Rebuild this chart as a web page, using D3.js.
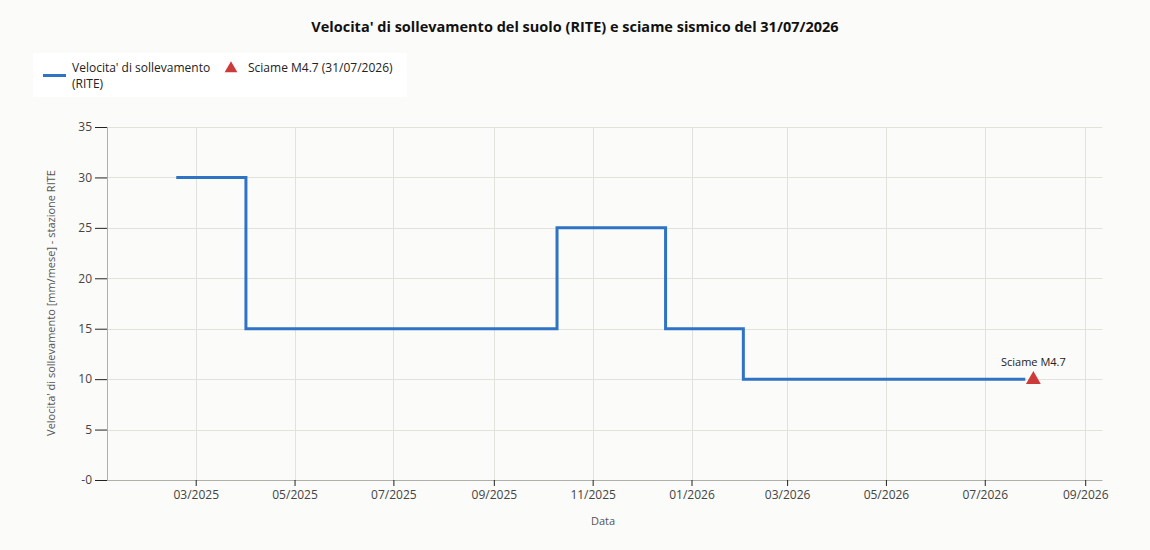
<!DOCTYPE html>
<html>
<head>
<meta charset="utf-8">
<script src="https://cdn.jsdelivr.net/npm/d3@7"></script>
<style>
  html, body { margin: 0; padding: 0; background: #fbfbf9; }
  svg { display: block; }
  text { font-family: "Open Sans", "Noto Sans", sans-serif; }
</style>
</head>
<body>
<svg id="chart" width="1150" height="550"></svg>
<script>
// ---- data ----
const stepDates = ["2025-02-17", "2025-04-01", "2025-10-10", "2025-12-16", "2026-02-02", "2026-07-26"];
const stepValues = [30, 15, 25, 15, 10, 10];
const eventDates = ["2026-07-31"];
const eventValues = [10];
const eventLabels = ["Sciame M4.7"];
const yTickValues = [0, 5, 10, 15, 20, 25, 30, 35];
const yTickLabels = ["-0", "5", "10", "15", "20", "25", "30", "35"];
const xDomainDates = ["2025-01-05T06:00", "2026-09-11T16:00"];
const titleText = "Velocita' di sollevamento del suolo (RITE) e sciame sismico del 31/07/2026";
const legendLine = ["Velocita' di sollevamento", "(RITE)"];
const legendEvent = "Sciame M4.7 (31/07/2026)";
const yTitle = "Velocita' di sollevamento [mm/mese] - stazione RITE";
const xTitle = "Data";

const parse = s => new Date(s.length > 10 ? s : s + "T00:00");
const series = stepDates.map((d, i) => ({ date: parse(d), value: stepValues[i] }));
const events = eventDates.map((d, i) => ({ date: parse(d), value: eventValues[i], label: eventLabels[i] }));

const svg = d3.select("#chart");
const L = 107, R = 1102.5, T = 127, B = 480;
const lineColor = "#2f74c4", triColor = "#cc3a3a";

const x = d3.scaleTime().domain(xDomainDates.map(parse)).range([L, R]);
const y = d3.scaleLinear().domain([0, 35]).range([B, T]);

// title
svg.append("text").attr("x", 575).attr("y", 32).attr("text-anchor", "middle")
  .attr("font-size", 14.5).attr("font-weight", "bold").attr("fill", "#111").text(titleText);

// legend
const lg = svg.append("g");
lg.append("rect").attr("x", 33).attr("y", 53).attr("width", 374).attr("height", 44).attr("fill", "#ffffff");
lg.append("line").attr("x1", 43).attr("x2", 66).attr("y1", 75.5).attr("y2", 75.5)
  .attr("stroke", lineColor).attr("stroke-width", 3);
lg.append("text").attr("x", 72).attr("y", 72).attr("font-size", 12).attr("fill", "#222").text(legendLine[0]);
lg.append("text").attr("x", 72).attr("y", 88).attr("font-size", 12).attr("fill", "#222").text(legendLine[1]);
lg.append("path").attr("d", d3.symbol(d3.symbolTriangle, 70)()).attr("transform", "translate(231,68.5)").attr("fill", triColor);
lg.append("text").attr("x", 248).attr("y", 72).attr("font-size", 12).attr("fill", "#222").text(legendEvent);

// grid
const xTicks = x.ticks(d3.timeMonth.every(2));
svg.append("g").selectAll("line").data(xTicks).join("line")
  .attr("x1", d => Math.round(x(d)) + 0.5).attr("x2", d => Math.round(x(d)) + 0.5)
  .attr("y1", T).attr("y2", B).attr("stroke", "#e2e2dc").attr("stroke-width", 1);
svg.append("g").selectAll("line").data(yTickValues.slice(1)).join("line")
  .attr("x1", L).attr("x2", R).attr("y1", d => Math.round(y(d)) + 0.5).attr("y2", d => Math.round(y(d)) + 0.5)
  .attr("stroke", "#e2e2dc").attr("stroke-width", 1);

// y axis
const yAxis = d3.axisLeft(y).tickValues(yTickValues).tickSize(12).tickPadding(3)
  .tickFormat((d, i) => yTickLabels[i]);
const ya = svg.append("g").attr("transform", `translate(${L},0)`).call(yAxis);
ya.select(".domain").attr("stroke", "#b0b0aa");
ya.selectAll(".tick line").attr("stroke", "#222");
ya.selectAll(".tick text").attr("font-size", 12).attr("fill", "#444").attr("font-family", "'Open Sans', sans-serif");

// x axis
const xAxis = d3.axisBottom(x).tickValues(xTicks).tickSize(6).tickPadding(4)
  .tickFormat(d3.timeFormat("%m/%Y"));
const xa = svg.append("g").attr("transform", `translate(0,${B})`).call(xAxis);
xa.select(".domain").attr("stroke", "#b0b0aa").attr("d", `M${L},0.5H${R}`);
xa.selectAll(".tick line").attr("stroke", "#222");
xa.selectAll(".tick text").attr("font-size", 12).attr("fill", "#444").attr("font-family", "'Open Sans', sans-serif");

// axis titles
svg.append("text").attr("transform", `translate(55,303) rotate(-90)`).attr("text-anchor", "middle")
  .attr("font-size", 11).attr("fill", "#555").text(yTitle);
svg.append("text").attr("x", 603).attr("y", 525).attr("text-anchor", "middle")
  .attr("font-size", 11).attr("fill", "#555").text(xTitle);

// step line
const line = d3.line().x(d => x(d.date)).y(d => y(d.value)).curve(d3.curveStepAfter);
svg.append("path").datum(series).attr("d", line).attr("fill", "none")
  .attr("stroke", lineColor).attr("stroke-width", 3).attr("stroke-linejoin", "miter");

// events
svg.append("g").selectAll("path").data(events).join("path")
  .attr("d", d3.symbol(d3.symbolTriangle, 95)())
  .attr("transform", d => `translate(${x(d.date)},${y(d.value) + 0.5})`).attr("fill", triColor);
svg.append("g").selectAll("text").data(events).join("text")
  .attr("x", d => x(d.date)).attr("y", d => y(d.value) - 13).attr("text-anchor", "middle")
  .attr("font-size", 11).attr("fill", "#222").text(d => d.label);
</script>
</body>
</html>
